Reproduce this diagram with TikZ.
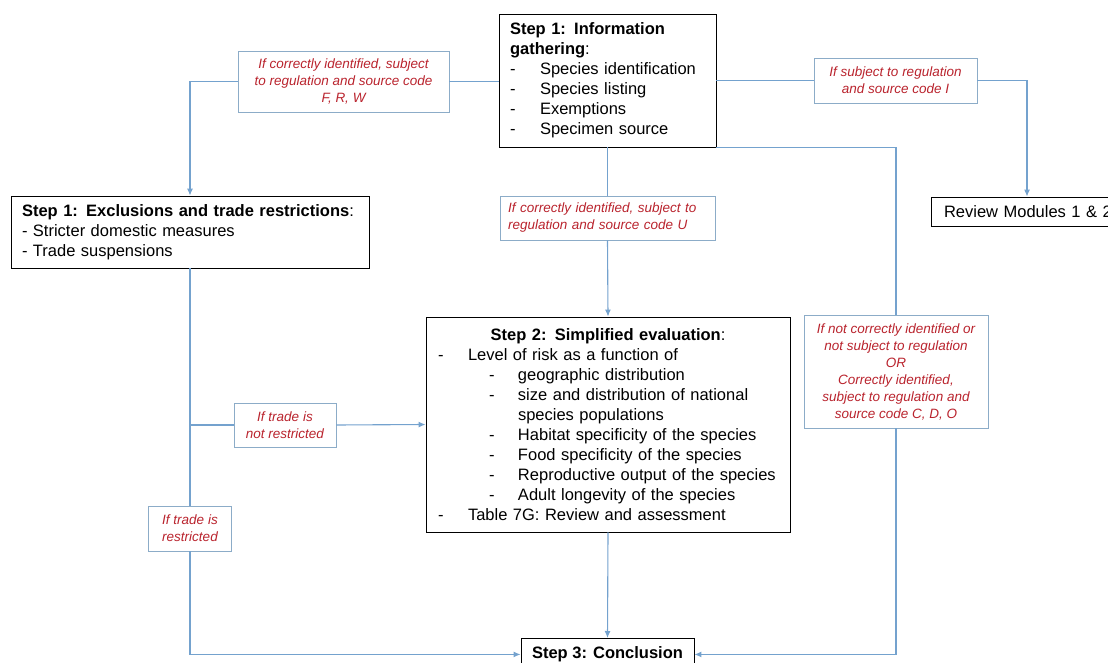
\documentclass[tikz,border=0pt]{standalone}
\usepackage{fontspec}
\setmainfont{Liberation Sans}
\usetikzlibrary{arrows.meta}
\definecolor{lnblue}{RGB}{116,162,206}
\definecolor{lblred}{RGB}{185,35,45}
\definecolor{lblborder}{RGB}{140,172,200}
\newcommand{\dashA}{\makebox[30pt][l]{-}}
\newcommand{\dashB}{\hspace*{51pt}\makebox[29pt][l]{-}}
\begin{document}
\begin{tikzpicture}[x=1pt,y=-1pt,
  box/.style={draw=black, line width=0.9pt, font=\fontsize{16.5}{20}\selectfont, inner xsep=11pt, inner ysep=0pt, align=left},
  lbl/.style={draw=lblborder, line width=0.9pt, text=lblred, font=\fontsize{13.5}{17}\selectfont\itshape, align=center, inner sep=1pt},
  conn/.style={draw=lnblue, line width=1.1pt},
  arr/.style={conn, -{Latex[length=7pt,width=6pt]}}]
\useasboundingbox (0,0) rectangle (1108,663);
% boxes
\node[box, minimum width=217pt, minimum height=133pt, text width=195pt] (info) at (607.5,80.5)
  {\textbf{Step 1: Information}\\ \textbf{gathering}:\\ \dashA Species identification\\ \dashA Species listing\\ \dashA Exemptions\\ \dashA Specimen source};
\node[box, minimum width=358pt, minimum height=72pt, text width=336pt] (excl) at (190,232)
  {\textbf{Step 1: Exclusions and trade restrictions}:\\ - Stricter domestic measures\\ - Trade suspensions};
\node[box, inner xsep=12pt, minimum width=364pt, minimum height=215pt, text width=340pt] (s2) at (608,424.5)
  {\makebox[340pt][c]{\textbf{Step 2: Simplified evaluation}:}\\
   \dashA Level of risk as a function of\\
   \dashB geographic distribution\\
   \dashB size and distribution of national\\
   \hspace*{80pt}species populations\\
   \dashB Habitat specificity of the species\\
   \dashB Food specificity of the species\\
   \dashB Reproductive output of the species\\
   \dashB Adult longevity of the species\\
   \dashA Table 7G: Review and assessment};
\node[box, inner xsep=13pt, minimum height=29pt, text width=166pt] (review) at (1027,211.5)
  {\makebox[166pt][l]{Review Modules 1 \& 2}};
\node[box, anchor=north, minimum width=173pt, minimum height=32pt, align=center] (s3) at (607.5,638)
  {\textbf{Step 3: Conclusion}};
% labels
\node[lbl, minimum width=211pt, minimum height=61pt] (frw) at (343.5,81.5)
  {If correctly identified, subject\\ to regulation and source code\\ F, R, W};
\node[lbl, minimum width=163pt, minimum height=45pt] (ifI) at (895.5,80.5)
  {If subject to regulation\\ and source code I};
\node[lbl, minimum width=215pt, minimum height=44pt, inner xsep=8pt, text width=199pt, align=left] (uL) at (607.5,218)
  {If correctly identified, subject to\\ regulation and source code U};
\node[lbl, minimum width=102pt, minimum height=44pt] (notr) at (285,425)
  {If trade is\\ not restricted};
\node[lbl, minimum width=83pt, minimum height=45pt] (restr) at (190,528.5)
  {If trade is\\ restricted};
\node[lbl, minimum width=184pt, minimum height=113pt] (right) at (896,371.5)
  {If not correctly identified or\\ not subject to regulation\\ OR\\ Correctly identified,\\ subject to regulation and\\ source code C, D, O};
% connectors
\draw[conn] (frw.east) -- (frw.east -| info.west);
\draw[arr] (frw.west) -| (excl.north);
\draw[conn] (ifI.west) -- (ifI.west -| info.east);
\draw[arr] (ifI.east) -| (review.north);
\draw[conn] (info.south) -- (uL.north);
\draw[arr] (uL.south) -- (s2.north);
\draw[conn] (info.south east) -- (info.south east -| right.north) -- (right.north);
\draw[arr] (right.south) |- (s3.east);
\draw[conn] (excl.south) -- (restr.north);
\draw[arr] (restr.south) |- (s3.west);
\draw[conn] (notr.west) -- (notr.west -| excl.south);
\draw[arr] (notr.east) -- (s2.west);
\draw[arr] (s2.south) -- (s3.north);
\end{tikzpicture}
\end{document}
